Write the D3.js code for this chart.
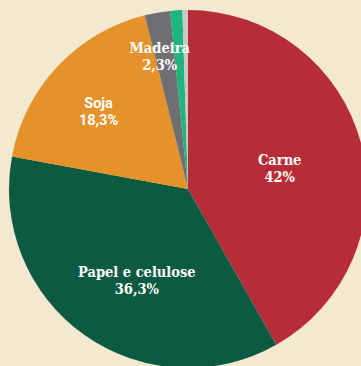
<!DOCTYPE html>
<html>
<head>
<meta charset="utf-8">
<script src="https://cdn.jsdelivr.net/npm/d3@7"></script>
<style>
  body { margin: 0; background: #f3e9d1; }
  svg { display: block; }
</style>
</head>
<body>
<div id="chart"><svg width="361" height="366"></svg></div>
<script>
// shares in %, clockwise from 12 o'clock
const categories = ["Carne", "Papel e celulose", "Soja", "Madeira", "Outros 1", "Outros 2"];
const shares = [42, 36.3, 18.3, 2.3, 1.1, 0.5];
const labelTexts = ["42%", "36,3%", "18,3%", "2,3%", null, null];
const colors = ["#b72d37", "#0c5a41", "#e5922a", "#6e6f72", "#20b47f", "#c8c8ca"];

const svg = d3.select("#chart svg");
const cx = 188, cy = 189, radius = 179;

const data = categories.map((c, i) => ({ name: c, value: shares[i], label: labelTexts[i], color: colors[i] }));

const pie = d3.pie().sort(null).value(d => d.value);
const arc = d3.arc().innerRadius(0).outerRadius(radius);
const arcs = pie(data);

const g = svg.append("g").attr("transform", `translate(${cx},${cy})`);

g.selectAll("path")
    .data(arcs)
    .enter()
    .append("path")
    .attr("d", arc)
    .attr("fill", d => d.data.color);

// label placement: radius + angle nudge (deg) from slice middle
const labelLayout = {
    "Carne": { r: 94, da: 2, font: "slab" },
    "Papel e celulose": { r: 104, da: -6, font: "slab" },
    "Soja": { r: 119, da: -2, font: "sans" },
    "Madeira": { r: 136, da: 0, font: "slab" }
};

const labels = g.selectAll(".lbl")
    .data(arcs.filter(d => d.data.label))
    .enter()
    .append("text")
    .attr("class", "lbl")
    .attr("transform", d => {
        const L = labelLayout[d.data.name];
        let mid = (d.startAngle + d.endAngle) / 2 + L.da * Math.PI / 180;
        if (d.data.name === "Madeira") mid = -12 * Math.PI / 180;
        const p = d3.pointRadial(mid, L.r);
        return `translate(${p[0]},${p[1]})`;
    })
    .attr("text-anchor", "middle")
    .attr("fill", "#ffffff")
    .style("font-weight", "bold")
    .style("font-size", d => labelLayout[d.data.name].font === "slab" ? "14.5px" : "14.5px")
    .style("font-family", d => labelLayout[d.data.name].font === "slab"
        ? "'DejaVu Serif Condensed', 'DejaVu Serif', serif"
        : "Roboto, 'Noto Sans', sans-serif")
    .style("font-stretch", d => labelLayout[d.data.name].font === "slab" ? "condensed" : "normal");

labels.append("tspan")
    .attr("x", 0)
    .attr("y", -3)
    .text(d => d.data.name);

labels.append("tspan")
    .attr("x", 0)
    .attr("y", 14)
    .text(d => d.data.label);
</script>
</body>
</html>
